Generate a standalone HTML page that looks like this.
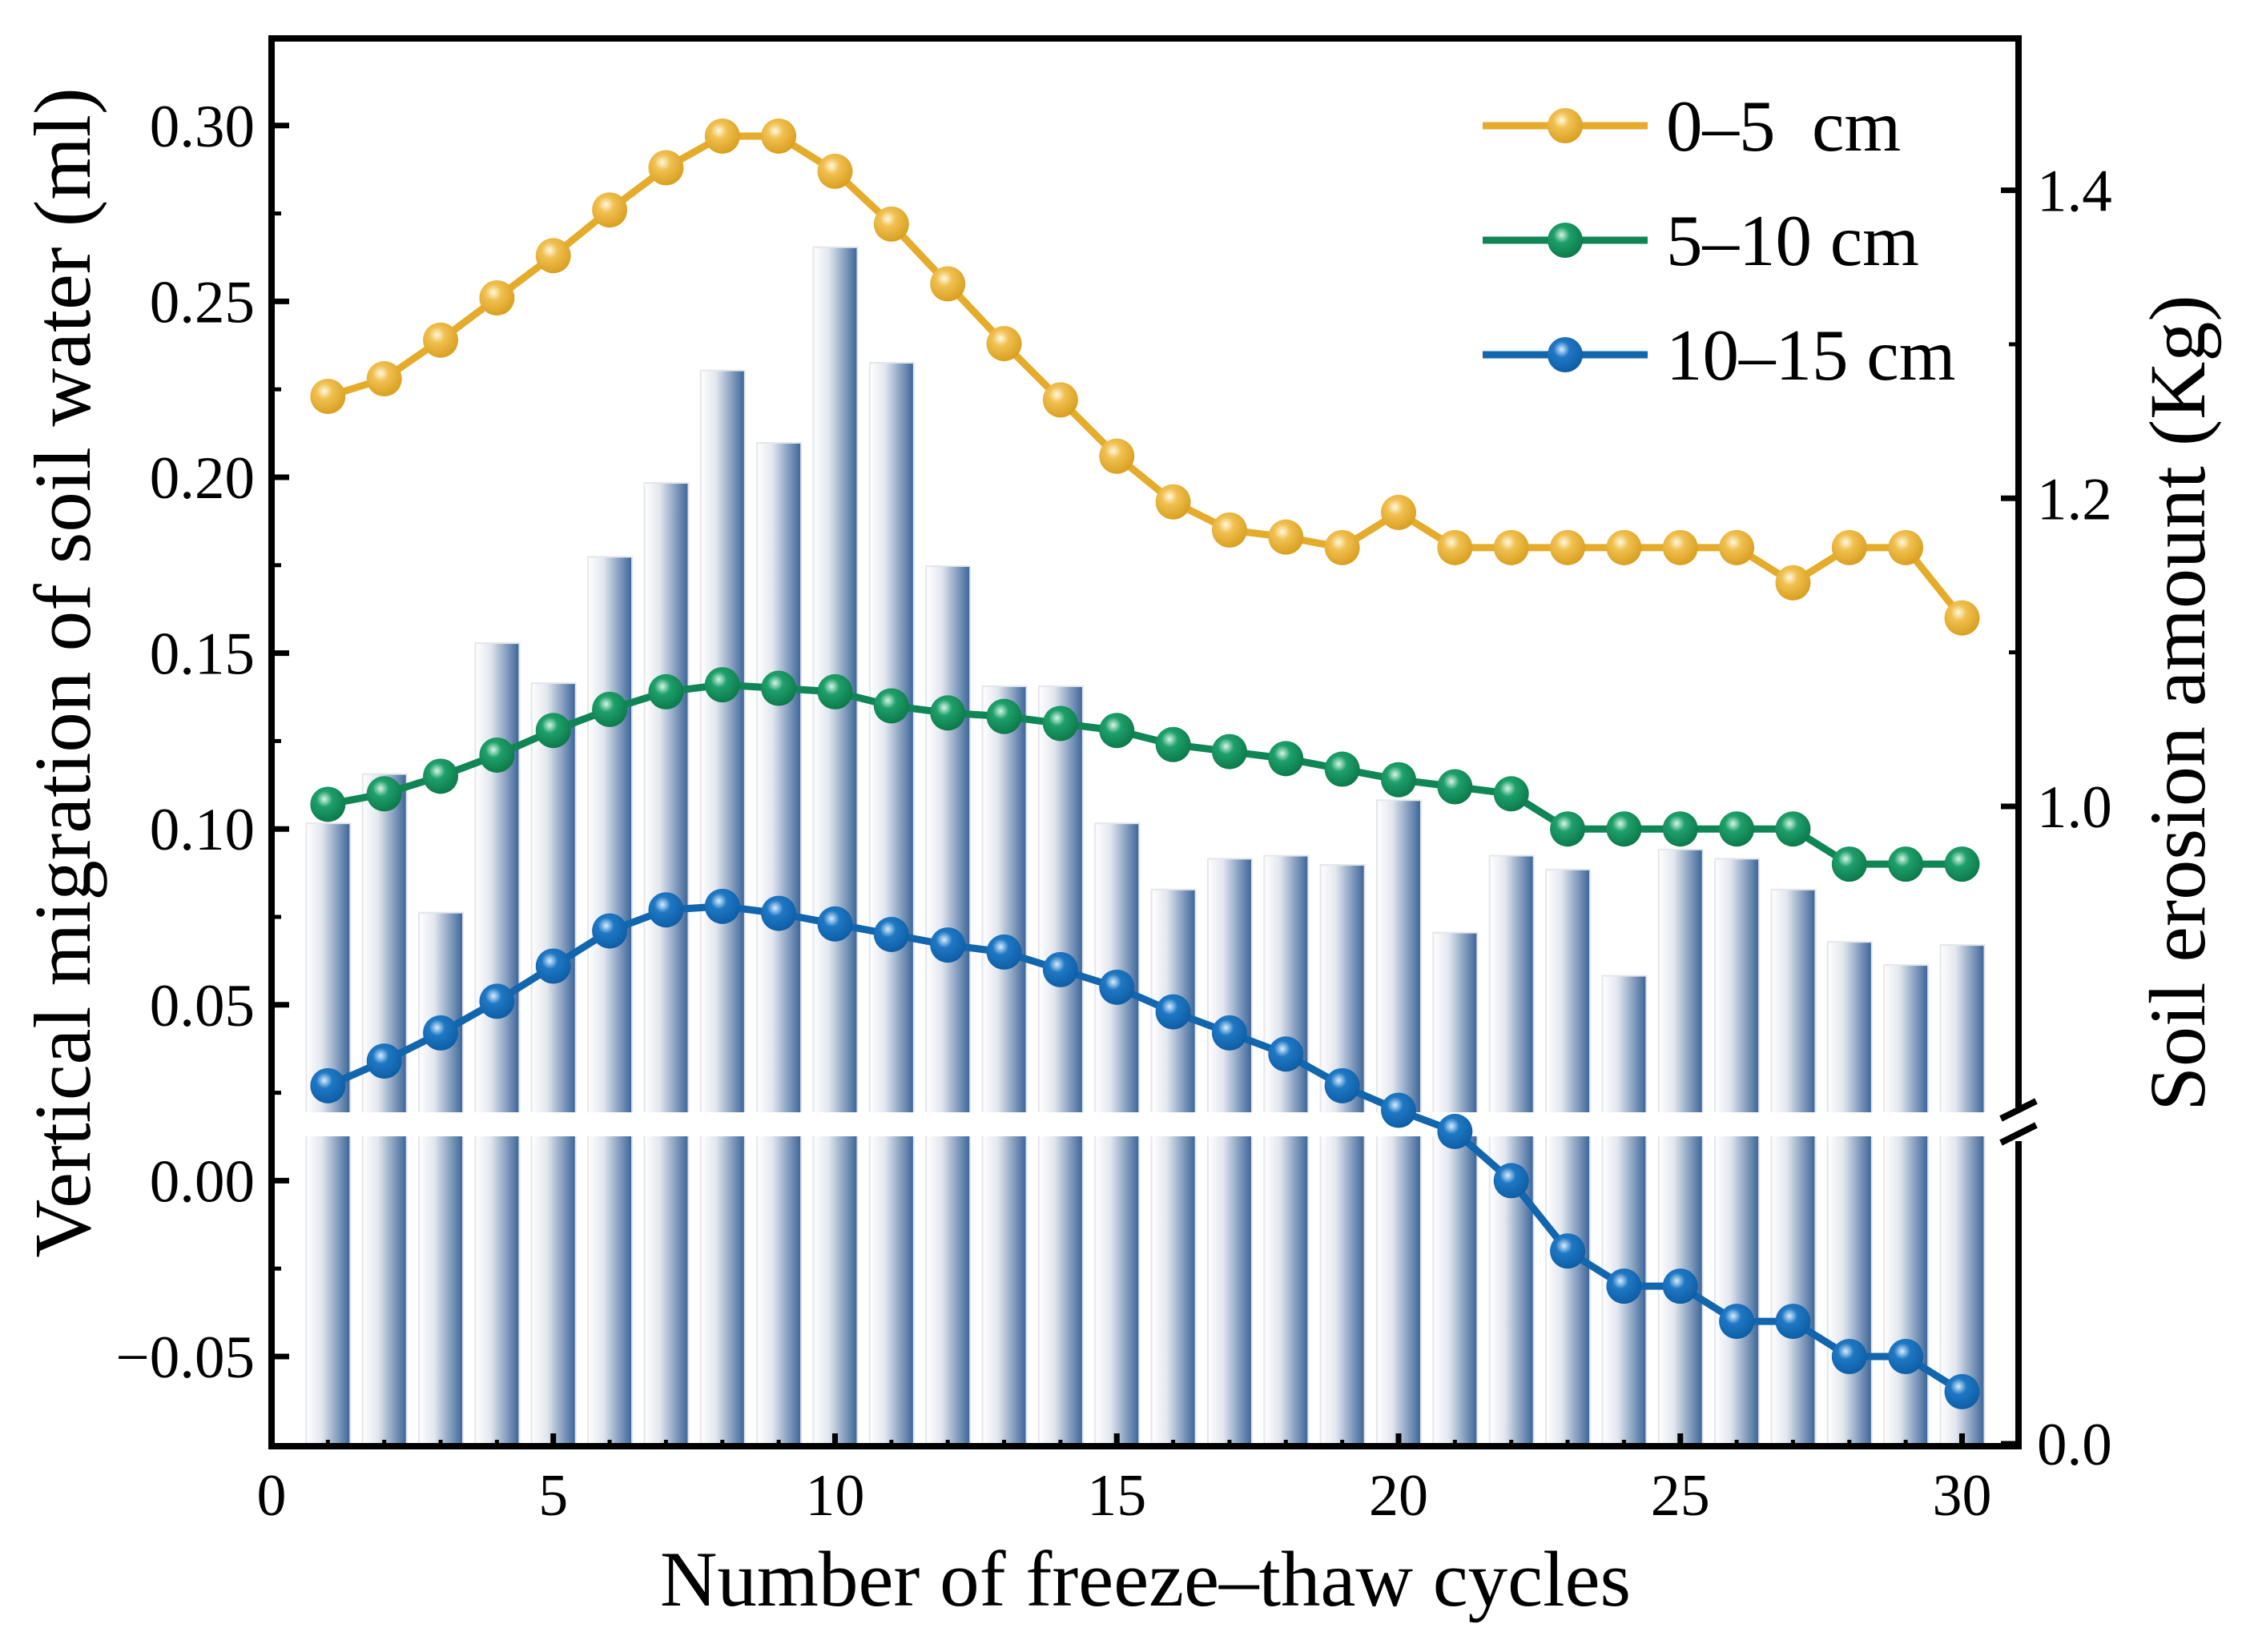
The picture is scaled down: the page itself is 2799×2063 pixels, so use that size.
<!DOCTYPE html>
<html><head><meta charset="utf-8"><style>
html,body{margin:0;padding:0;background:#fff}
svg{display:block;font-family:"Liberation Serif",serif}
</style></head><body>
<svg id="chart" width="2799" height="2063" viewBox="0 0 2799 2063" xmlns="http://www.w3.org/2000/svg">
<defs>
<linearGradient id="barGrad" x1="0" x2="1" y1="0" y2="0">
<stop offset="0" stop-color="#ffffff"/><stop offset="0.35" stop-color="#e2e6ee"/><stop offset="1" stop-color="#3a6498"/>
</linearGradient>
<radialGradient id="gY" cx="0.4" cy="0.35" r="0.65"><stop offset="0" stop-color="#fff8e0"/><stop offset="0.35" stop-color="#f0c050"/><stop offset="1" stop-color="#d9a021"/></radialGradient>
<radialGradient id="gG" cx="0.4" cy="0.35" r="0.65"><stop offset="0" stop-color="#d8f5e6"/><stop offset="0.35" stop-color="#1ea06a"/><stop offset="1" stop-color="#0d7a4c"/></radialGradient>
<radialGradient id="gB" cx="0.4" cy="0.35" r="0.65"><stop offset="0" stop-color="#d8ecff"/><stop offset="0.35" stop-color="#1f78c4"/><stop offset="1" stop-color="#0e5ea6"/></radialGradient>
</defs>
<g id="bars"></g>
<rect x="330" y="1389" width="2180" height="30" fill="#fff"/>
<g id="lines"></g>
<g id="axes"></g>
<g id="legend"></g>
<text x="1430" y="2005" font-size="99" text-anchor="middle">Number of freeze–thaw cycles</text>
<text x="0" y="0" font-size="101" text-anchor="middle" transform="translate(112,840) rotate(-90)">Vertical migration of soil water (ml)</text>
<text x="0" y="0" font-size="100" text-anchor="middle" transform="translate(2752,878) rotate(-90)">Soil erosion amount (Kg)</text>
</svg>
<script>
const cycles = [1,2,3,4,5,6,7,8,9,10,11,12,13,14,15,16,17,18,19,20,21,22,23,24,25,26,27,28,29,30];
const erosion = [0.989,1.021,0.931,1.106,1.080,1.162,1.210,1.283,1.236,1.363,1.288,1.156,1.078,1.078,0.989,0.946,0.966,0.968,0.962,1.004,0.918,0.968,0.959,0.890,0.972,0.966,0.946,0.912,0.897,0.910];
const s0_5 = [0.223,0.228,0.239,0.251,0.263,0.276,0.288,0.297,0.297,0.287,0.272,0.255,0.238,0.222,0.206,0.193,0.185,0.183,0.180,0.190,0.180,0.180,0.180,0.180,0.180,0.180,0.170,0.180,0.180,0.160];
const s5_10 = [0.107,0.110,0.115,0.121,0.128,0.134,0.139,0.141,0.140,0.139,0.135,0.133,0.132,0.130,0.128,0.124,0.122,0.120,0.117,0.114,0.112,0.110,0.100,0.100,0.100,0.100,0.100,0.090,0.090,0.090];
const s10_15 = [0.027,0.034,0.042,0.051,0.061,0.071,0.077,0.078,0.076,0.073,0.070,0.067,0.065,0.060,0.055,0.048,0.042,0.036,0.027,0.020,0.014,0.000,-0.020,-0.030,-0.030,-0.040,-0.040,-0.050,-0.050,-0.060];
const xTicks = [0,5,10,15,20,25,30];
const leftTicks = [-0.05,0,0.05,0.10,0.15,0.20,0.25,0.30];
const leftTickLabels = ["\u22120.05","0.00","0.05","0.10","0.15","0.20","0.25","0.30"];
const rightTicks = [0.0,1.0,1.2,1.4];
const rightTickLabels = ["0.0","1.0","1.2","1.4"];
const seriesNames = ["0\u20135\u00a0\u00a0cm","5\u201310 cm","10\u201315 cm"];

const NS="http://www.w3.org/2000/svg";
const L=339,R=2520,T=48,B=1806;
const x=v=>339+v*70.35;
const yL=v=>1474.4-v*4392;
const yR=v=> v>=0.8 ? 1007-(v-1)*1923.5 : 1803-v*520;
function mk(tag,attrs,parent){const e=document.createElementNS(NS,tag);for(const k in attrs)e.setAttribute(k,attrs[k]);parent.appendChild(e);return e;}
const gb=document.getElementById('bars');
cycles.forEach((c,i)=>{
  const top=yR(erosion[i]);
  const r=mk('rect',{x:x(c)-27,y:top,width:55,height:B-top,fill:'url(#barGrad)',stroke:'#e4e6ea','stroke-width':2},gb);
  
  
});
const gl=document.getElementById('lines');
const series=[[s0_5,'#e5ac2c','url(#gY)','series-0-5cm'],[s5_10,'#108556','url(#gG)','series-5-10cm'],[s10_15,'#1266ad','url(#gB)','series-10-15cm']];
series.forEach(([d,col,grad,name])=>{
  const g=mk('g',{},gl);
  
  
  mk('polyline',{points:d.map((v,i)=>x(cycles[i])+','+yL(v)).join(' '),fill:'none',stroke:col,'stroke-width':9,'stroke-linejoin':'round'},g);
  d.forEach((v,i)=>{
    const c=mk('circle',{cx:x(cycles[i]),cy:yL(v),r:22,fill:grad},g);
    
    
  });
});
const ga=document.getElementById('axes');
mk('line',{x1:L,y1:T,x2:R,y2:T,stroke:'#000','stroke-width':8},ga);
mk('line',{x1:L,y1:T-4,x2:L,y2:B+4,stroke:'#000','stroke-width':8},ga);
mk('line',{x1:L-4,y1:B,x2:R+4,y2:B,stroke:'#000','stroke-width':8},ga);
mk('line',{x1:R,y1:T-4,x2:R,y2:1383,stroke:'#000','stroke-width':8},ga);
mk('line',{x1:R,y1:1425,x2:R,y2:B+4,stroke:'#000','stroke-width':8},ga);
mk('rect',{x:R-20,y:1386,width:40,height:36,fill:'#fff'},ga);
mk('line',{x1:R-22,y1:1397,x2:R+22,y2:1375,stroke:'#000','stroke-width':8},ga);
mk('line',{x1:R-22,y1:1427,x2:R+22,y2:1405,stroke:'#000','stroke-width':8},ga);
for(let v=0;v<=30;v++){
  const major=v%5===0;
  mk('line',{x1:x(v),y1:B,x2:x(v),y2:B-(major?16:8),stroke:'#000','stroke-width':major?7:5},ga);
}
xTicks.forEach(v=>{
  const t=mk('text',{x:x(v),y:1892,'font-size':74,'text-anchor':'middle'},ga);t.textContent=v;
  
  
});
leftTicks.forEach((v,i)=>{
  mk('line',{x1:L,y1:yL(v),x2:L+22,y2:yL(v),stroke:'#000','stroke-width':7},ga);
  mk('line',{x1:L,y1:yL(v+0.025),x2:L+12,y2:yL(v+0.025),stroke:'#000','stroke-width':5},ga);
  const t=mk('text',{x:318,y:yL(v)+26,'font-size':75,'text-anchor':'end'},ga);t.textContent=leftTickLabels[i];
  
  
});
rightTicks.forEach((v,i)=>{
  mk('line',{x1:R,y1:yR(v),x2:R-22,y2:yR(v),stroke:'#000','stroke-width':7},ga);
  const t=mk('text',{x:2543,y:yR(v)+26,'font-size':75,'text-anchor':'start'},ga);t.textContent=rightTickLabels[i];
  
  
});
[1.1,1.3,1.5].forEach(v=>{if(yR(v)>T)mk('line',{x1:R,y1:yR(v),x2:R-12,y2:yR(v),stroke:'#000','stroke-width':5},ga);});
const glg=document.getElementById('legend');
series.forEach(([d,col,grad,name],i)=>{
  const yy=157+i*143;
  const g=mk('g',{},glg);
  
  
  mk('line',{x1:1851,y1:yy,x2:2057,y2:yy,stroke:col,'stroke-width':9},g);
  mk('circle',{cx:1954,cy:yy,r:22,fill:grad},g);
  const t=mk('text',{x:2080,y:yy+31,'font-size':91},g);t.textContent=seriesNames[i];
});
</script>
</body></html>
